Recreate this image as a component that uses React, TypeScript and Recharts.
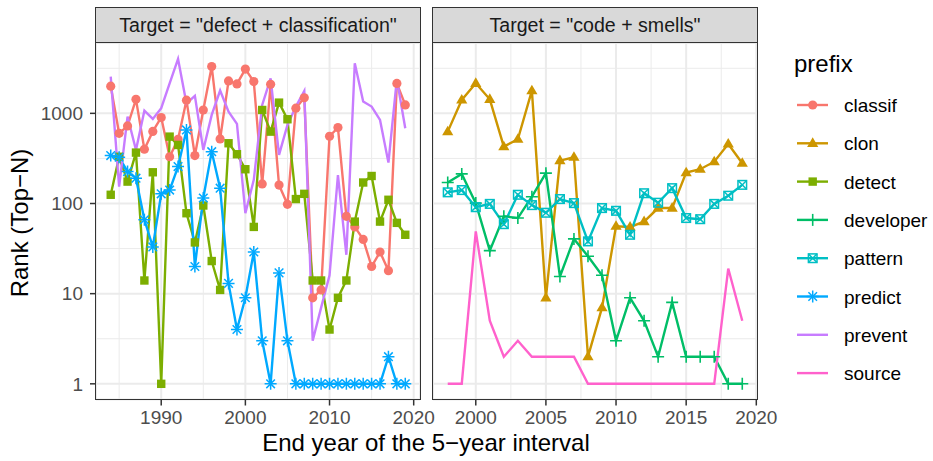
import React from "react";
import { LineChart, Line, XAxis, YAxis, CartesianGrid, ReferenceLine } from "recharts";

// facet 1: Target = "defect + classification"
const leftYears = [
  1984, 1985, 1986, 1987, 1988, 1989, 1990, 1991, 1992, 1993, 1994, 1995,
  1996, 1997, 1998, 1999, 2000, 2001, 2002, 2003, 2004, 2005, 2006, 2007,
  2008, 2009, 2010, 2011, 2012, 2013, 2014, 2015, 2016, 2017, 2018, 2019,
];
const classif = [
  2000, 600, 725, 1430, 400, 630, 900, 330, 516, 1400, 340, 1090,
  3300, 520, 2290, 2120, 3100, 2250, 165, 2100, 160, 98, 1140, 1490,
  9, 11, 557, 695, 72, 55, 40, 20, 29, 18, 2150, 1240,
];
const detect = [
  125, 330, 175, 367, 14, 222, 1, 552, 446, 78, 37, 95,
  23, 11, 466, 352, 240, 55, 1090, 627, 1315, 860, 112, 128,
  14, 14, 4, 9, 14, 63, 171, 202, 63, 110, 61, 45,
];
const predict = [
  340, 326, 226, 191, 66, 33, 128, 141, 257, 655, 20, 115,
  376, 148, 13, 4, 9, 29, 3, 1, 17, 3, 1, 1,
  1, 1, 1, 1, 1, 1, 1, 1, 1, 2, 1, 1,
];
const prevent = [
  2550, 154, 920, 393, 1070, 867, 1140, 2150, 4010, 1290, 1560, 393,
  960, 1790, 1045, 763, 78, 183, 1240, 2450, 346, 743, 1190, 1770,
  3, 7, 16, 207, 27, 3590, 1350, 1190, 845, 284, 2390, 683,
];

// facet 2: Target = "code + smells"
const rightYears = [
  1998, 1999, 2000, 2001, 2002, 2003, 2004, 2005, 2006, 2007, 2008,
  2009, 2010, 2011, 2012, 2013, 2014, 2015, 2016, 2017, 2018, 2019,
];
const clon = [627, 1408, 2155, 1432, 427, 516, 1786, 9, 299, 326, 2, 7, 56, 55, 63, 89, 89, 220, 240, 291, 458, 280];
const developer = [171, 213, 101, 30, 72, 69, 119, 217, 15.5, 40.5, 26, 16, 3, 9, 5, 2, 8, 2, 2, 2, 1, 1];
const pattern = [133, 141, 91, 99, 59, 125, 96, 79, 112, 101, 38, 89, 83, 45, 130, 102, 148, 69, 67, 99, 122, 161];
const source = [1, 1, 49, 5, 2, 3, 2, 2, 2, 2, 1, 1, 1, 1, 1, 1, 1, 1, 1, 1, 19, 5];

const prefixes = ["classif", "clon", "detect", "developer", "pattern", "predict", "prevent", "source"];
const colors: Record<string, string> = {
  classif: "#F8766D",
  clon: "#CD9600",
  detect: "#7CAE00",
  developer: "#00BE67",
  pattern: "#00BFC4",
  predict: "#00A9FF",
  prevent: "#C77CFF",
  source: "#FF61CC",
};
const shapes: Record<string, string> = {
  classif: "circle",
  clon: "triangle",
  detect: "square",
  developer: "plus",
  pattern: "boxx",
  predict: "star",
  prevent: "none",
  source: "none",
};

const yTicks = [1, 10, 100, 1000];
const yMinor = [3.162, 31.62, 316.2, 3162];
const yDomain = [0.67, 6030];
const leftXTicks = [1990, 2000, 2010, 2020];
const leftXMinor = [1985, 1995, 2005, 2015];
const rightXTicks = [2000, 2005, 2010, 2015, 2020];
const rightXMinor = [2002.5, 2007.5, 2012.5, 2017.5];

const leftData = leftYears.map((year, i) => ({
  year,
  classif: classif[i],
  detect: detect[i],
  predict: predict[i],
  prevent: prevent[i],
}));
const rightData = rightYears.map((year, i) => ({
  year,
  clon: clon[i],
  developer: developer[i],
  pattern: pattern[i],
  source: source[i],
}));

const FONT = "'Liberation Sans', Arial, sans-serif";
const STRIP_TOP = 7;
const PANEL_TOP = 43;
const PANEL_H = 356.5;
const PANEL_W = 324;
const PAD_R = 30; // room for the last tick label

const Marker = ({ cx, cy, shape, color }: { cx: number; cy: number; shape: string; color: string }) => {
  if (cx == null || cy == null) return <g />;
  switch (shape) {
    case "circle":
      return <circle cx={cx} cy={cy} r={4.6} fill={color} />;
    case "triangle":
      return <polygon points={`${cx},${cy - 6} ${cx - 5.6},${cy + 3.6} ${cx + 5.6},${cy + 3.6}`} fill={color} />;
    case "square":
      return <rect x={cx - 4.2} y={cy - 4.2} width={8.4} height={8.4} fill={color} />;
    case "plus":
      return (
        <g stroke={color} strokeWidth={1.6}>
          <line x1={cx - 6} y1={cy} x2={cx + 6} y2={cy} />
          <line x1={cx} y1={cy - 6} x2={cx} y2={cy + 6} />
        </g>
      );
    case "boxx":
      return (
        <g stroke={color} strokeWidth={1.5} fill="none">
          <rect x={cx - 4.3} y={cy - 4.3} width={8.6} height={8.6} />
          <line x1={cx - 4.3} y1={cy - 4.3} x2={cx + 4.3} y2={cy + 4.3} />
          <line x1={cx - 4.3} y1={cy + 4.3} x2={cx + 4.3} y2={cy - 4.3} />
        </g>
      );
    case "star":
      return (
        <g stroke={color} strokeWidth={1.5}>
          <line x1={cx - 6} y1={cy} x2={cx + 6} y2={cy} />
          <line x1={cx} y1={cy - 6} x2={cx} y2={cy + 6} />
          <line x1={cx - 4.3} y1={cy - 4.3} x2={cx + 4.3} y2={cy + 4.3} />
          <line x1={cx - 4.3} y1={cy + 4.3} x2={cx + 4.3} y2={cy - 4.3} />
        </g>
      );
    default:
      return <g />;
  }
};

const tickStyle = { fill: "#4D4D4D", fontSize: 19 };
const tickLine = { stroke: "#333333", strokeWidth: 1.5 };

const Panel = ({
  data,
  keys,
  xDomain,
  xTicks,
  xMinor,
  showY,
}: {
  data: any[];
  keys: string[];
  xDomain: number[];
  xTicks: number[];
  xMinor: number[];
  showY: boolean;
}) => (
  <LineChart
    width={(showY ? 96 : 0) + PANEL_W + PAD_R}
    height={PANEL_H + 40}
    data={data}
    margin={{ top: 0, right: PAD_R, bottom: 0, left: 0 }}
  >
    <CartesianGrid stroke="#EBEBEB" strokeWidth={2} />
    {yMinor.map((v) => (
      <ReferenceLine key={`ym${v}`} y={v} stroke="#EBEBEB" strokeWidth={1} />
    ))}
    {xMinor.map((v) => (
      <ReferenceLine key={`xm${v}`} x={v} stroke="#EBEBEB" strokeWidth={1} />
    ))}
    <XAxis
      dataKey="year"
      type="number"
      domain={xDomain}
      ticks={xTicks}
      interval={0}
      allowDataOverflow
      height={40}
      axisLine={false}
      tickLine={tickLine}
      tickSize={6}
      tickMargin={5}
      tick={tickStyle}
    />
    <YAxis
      type="number"
      scale="log"
      domain={yDomain}
      ticks={yTicks}
      interval={0}
      allowDataOverflow
      hide={!showY}
      width={96}
      axisLine={false}
      tickLine={tickLine}
      tickSize={6}
      tickMargin={7}
      tick={tickStyle}
    />
    {keys.map((k) => (
      <Line
        key={k}
        dataKey={k}
        stroke={colors[k]}
        strokeWidth={2.4}
        isAnimationActive={false}
        activeDot={false}
        dot={
          shapes[k] === "none"
            ? false
            : (p: any) => <Marker key={`${k}-${p.index}`} cx={p.cx} cy={p.cy} shape={shapes[k]} color={colors[k]} />
        }
      />
    ))}
  </LineChart>
);

const Strip = ({ left, label }: { left: number; label: string }) => (
  <div
    style={{
      position: "absolute",
      left: left - 0.75,
      top: STRIP_TOP,
      width: PANEL_W + 1.5,
      height: PANEL_TOP - STRIP_TOP + 0.75,
      boxSizing: "border-box",
      background: "#D9D9D9",
      border: "1.5px solid #333333",
      color: "#1A1A1A",
      fontSize: 19.6,
      lineHeight: `${PANEL_TOP - STRIP_TOP - 2}px`,
      textAlign: "center",
      whiteSpace: "nowrap",
    }}
  >
    {label}
  </div>
);

const Border = ({ left }: { left: number }) => (
  <div
    style={{
      position: "absolute",
      left: left - 0.75,
      top: PANEL_TOP - 0.75,
      width: PANEL_W + 1.5,
      height: PANEL_H + 1.5,
      boxSizing: "border-box",
      border: "1.5px solid #333333",
      pointerEvents: "none",
    }}
  />
);

export default function App() {
  return (
    <div
      style={{
        position: "absolute",
        left: 0,
        top: 0,
        width: 933,
        height: 461,
        background: "#FFFFFF",
        fontFamily: FONT,
        overflow: "hidden",
      }}
    >
      <Strip left={96} label={'Target = "defect + classification"'} />
      <Strip left={433} label={'Target = "code + smells"'} />
      <div style={{ position: "absolute", left: 0, top: PANEL_TOP }}>
        <Panel
          data={leftData}
          keys={["classif", "detect", "predict", "prevent"]}
          xDomain={[1982.25, 2020.75]}
          xTicks={leftXTicks}
          xMinor={leftXMinor}
          showY
        />
      </div>
      <div style={{ position: "absolute", left: 433, top: PANEL_TOP }}>
        <Panel
          data={rightData}
          keys={["clon", "developer", "pattern", "source"]}
          xDomain={[1996.95, 2020.05]}
          xTicks={rightXTicks}
          xMinor={rightXMinor}
          showY={false}
        />
      </div>
      <Border left={96} />
      <Border left={433} />
      <svg
        width={933}
        height={461}
        style={{ position: "absolute", left: 0, top: 0, pointerEvents: "none" }}
        fontFamily={FONT}
      >
        <text x={426} y={451} fontSize={24} textAnchor="middle" fill="#000">
          End year of the 5−year interval
        </text>
        <text transform="translate(28,223) rotate(-90)" fontSize={24} textAnchor="middle" fill="#000">
          Rank (Top−N)
        </text>
        <text x={794} y={72} fontSize={24} fill="#000">
          prefix
        </text>
        {prefixes.map((k, i) => {
          const cy = 105 + i * 38.3;
          return (
            <g key={k}>
              <line x1={797} y1={cy} x2={828} y2={cy} stroke={colors[k]} strokeWidth={2.4} />
              <Marker cx={812.7} cy={cy} shape={shapes[k]} color={colors[k]} />
              <text x={844} y={cy + 7} fontSize={19} fill="#000">
                {k}
              </text>
            </g>
          );
        })}
      </svg>
    </div>
  );
}
